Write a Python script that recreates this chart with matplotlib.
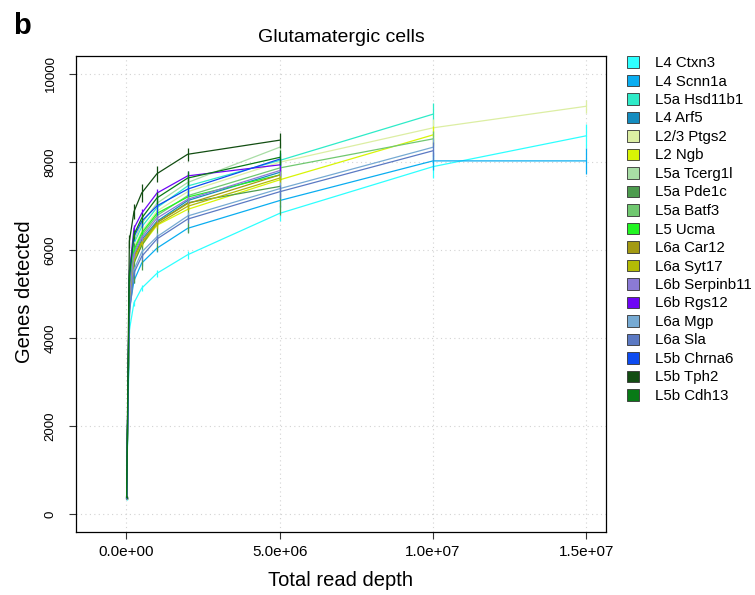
import matplotlib
matplotlib.use("Agg")
import matplotlib.pyplot as plt
from matplotlib.patches import Patch

plt.rcParams['font.family'] = ['Liberation Sans', 'DejaVu Sans']

# Subsampled read depths
depths = [1e4, 1e5, 2.5e5, 5e5, 1e6, 2e6, 5e6, 1e7, 1.5e7]

cell_types = [
    "L4 Ctxn3", "L4 Scnn1a", "L5a Hsd11b1", "L4 Arf5", "L2/3 Ptgs2", "L2 Ngb",
    "L5a Tcerg1l", "L5a Pde1c", "L5a Batf3", "L5 Ucma", "L6a Car12", "L6a Syt17",
    "L6b Serpinb11", "L6b Rgs12", "L6a Mgp", "L6a Sla", "L5b Chrna6", "L5b Tph2",
    "L5b Cdh13",
]

colors = [
    "#2EFFFF", "#0AADF0", "#2EEBC8", "#148CBF", "#DCEEA3", "#D8F405",
    "#A8DDA5", "#4D9B4E", "#70C870", "#22F522", "#A39A12", "#B3BB05",
    "#8B7AD5", "#6E05F5", "#76AAD3", "#5B79C3", "#0D4BF0", "#124D12",
    "#087A16",
]

# Mean genes detected at each depth (series stop where no cells reach the depth)
genes_ctxn3 = [340, 4180, 4800, 5130, 5470, 5890, 6830, 7890, 8590]
genes_scnn1a = [350, 4650, 5300, 5700, 6040, 6490, 7120, 8020, 8020]
genes_hsd11b1 = [380, 5250, 6150, 6520, 6960, 7450, 8030, 9080]
genes_arf5 = [370, 4950, 5850, 6230, 6650, 7120, 7760]
genes_ptgs2 = [370, 5150, 6050, 6420, 6880, 7320, 7990, 8770, 9260]
genes_ngb = [360, 4850, 5750, 6100, 6560, 6920, 7590, 8610]
genes_tcerg1l = [380, 5300, 6200, 6600, 7060, 7530, 8330]
genes_pde1c = [360, 4700, 5700, 6100, 6620, 7070, 7440]
genes_batf3 = [370, 5000, 5950, 6330, 6780, 7230, 7860, 8520]
genes_ucma = [370, 5050, 6000, 6380, 6830, 7200, 7700]
genes_car12 = [360, 4900, 5850, 6180, 6620, 7050, 7700]
genes_syt17 = [360, 4850, 5800, 6150, 6580, 6990, 7630]
genes_serpinb11 = [370, 4950, 5900, 6280, 6720, 7150, 7800]
genes_rgs12 = [390, 5500, 6490, 6830, 7290, 7680, 7930]
genes_mgp = [360, 4600, 5550, 5950, 6300, 6770, 7390, 8330]
genes_sla = [350, 4550, 5480, 5850, 6250, 6700, 7320, 8250]
genes_chrna6 = [380, 5350, 6300, 6650, 7000, 7380, 8060]
genes_tph2 = [400, 6200, 6870, 7290, 7730, 8170, 8490]
genes_cdh13 = [390, 5400, 6350, 6720, 7180, 7630, 8100]

# Error half-widths at each depth
err_ctxn3 = [10, 60, 70, 70, 80, 90, 180, 260, 270]
err_scnn1a = [10, 60, 60, 70, 80, 90, 150, 200, 300]
err_hsd11b1 = [10, 60, 70, 80, 90, 110, 180, 260]
err_arf5 = [10, 50, 60, 70, 80, 90, 120]
err_ptgs2 = [10, 60, 70, 80, 90, 100, 150, 200, 150]
err_ngb = [10, 60, 70, 80, 90, 100, 150, 200]
err_tcerg1l = [10, 50, 60, 70, 80, 90, 120]
err_pde1c = [20, 300, 450, 550, 650, 680, 650]
err_batf3 = [10, 60, 70, 80, 90, 110, 160, 180]
err_ucma = [10, 50, 60, 70, 80, 90, 120]
err_car12 = [10, 50, 60, 70, 80, 90, 120]
err_syt17 = [10, 50, 60, 70, 80, 90, 120]
err_serpinb11 = [10, 50, 60, 70, 80, 90, 120]
err_rgs12 = [10, 60, 80, 90, 100, 110, 130]
err_mgp = [10, 60, 70, 80, 90, 100, 150, 200]
err_sla = [10, 60, 70, 80, 90, 100, 150, 200]
err_chrna6 = [10, 80, 100, 120, 200, 150, 150]
err_tph2 = [20, 150, 170, 200, 180, 150, 170]
err_cdh13 = [10, 80, 100, 120, 130, 150, 170]

genes = [genes_ctxn3, genes_scnn1a, genes_hsd11b1, genes_arf5, genes_ptgs2, genes_ngb,
         genes_tcerg1l, genes_pde1c, genes_batf3, genes_ucma, genes_car12, genes_syt17,
         genes_serpinb11, genes_rgs12, genes_mgp, genes_sla, genes_chrna6, genes_tph2,
         genes_cdh13]
errs = [err_ctxn3, err_scnn1a, err_hsd11b1, err_arf5, err_ptgs2, err_ngb,
        err_tcerg1l, err_pde1c, err_batf3, err_ucma, err_car12, err_syt17,
        err_serpinb11, err_rgs12, err_mgp, err_sla, err_chrna6, err_tph2,
        err_cdh13]

x_ticks = [0, 5e6, 1e7, 1.5e7]
x_ticklabels = ["0.0e+00", "5.0e+06", "1.0e+07", "1.5e+07"]
y_ticks = [0, 2000, 4000, 6000, 8000, 10000]

W, H = 755, 595
fig = plt.figure(figsize=(W / 100, H / 100), dpi=100)
ax = fig.add_axes([76 / W, 1 - 532 / H, (606 - 76) / W, (532 - 56) / H])

for xv in x_ticks:
    ax.axvline(xv, color="#d3d3d3", lw=0.8, ls=(0, (1, 3)), zorder=0)
for yv in y_ticks:
    ax.axhline(yv, color="#d3d3d3", lw=0.8, ls=(0, (1, 3)), zorder=0)

for g, e, c in zip(genes, errs, colors):
    xs = depths[:len(g)]
    ax.plot(xs, g, color=c, lw=0.9, zorder=2)
    ax.errorbar(xs, g, yerr=e, fmt="none", ecolor=c, elinewidth=0.9,
                capsize=0, zorder=2)

ax.set_xlim(-1.64e6, 1.564e7)
ax.set_ylim(-400, 10400)
ax.set_xticks(x_ticks)
ax.set_xticklabels(x_ticklabels, fontsize=11)
ax.set_yticks(y_ticks)
ax.set_yticklabels([str(v) for v in y_ticks], fontsize=9.5, rotation=90, va="center")
ax.tick_params(axis="both", direction="out", length=5, width=0.8, color="#333333")
ax.tick_params(axis="x", pad=4)
ax.tick_params(axis="y", pad=9)
for s in ax.spines.values():
    s.set_linewidth(0.9)
    s.set_color("black")

fig.text(341 / W, 1 - 38 / H, "Glutamatergic cells", fontsize=14, ha="center", va="center")
fig.text(341 / W, 1 - 580 / H, "Total read depth", fontsize=14.5, ha="center", va="center")
fig.text(25 / W, 1 - 292 / H, "Genes detected", fontsize=14.5, ha="center", va="center",
         rotation=90)
fig.text(22 / W, 1 - 26 / H, "b", fontsize=21, fontweight="bold", ha="center", va="center")

handles = [Patch(facecolor=c, edgecolor="#333333", linewidth=0.6) for c in colors]
fig.legend(handles, cell_types, loc="upper left", bbox_to_anchor=(627 / W, 1 - 56 / H),
           frameon=False, fontsize=10.8, handlelength=0.8, handleheight=0.8,
           handletextpad=1.05, labelspacing=0.3, borderaxespad=0, borderpad=0)

fig.savefig("out.png", dpi=100)
